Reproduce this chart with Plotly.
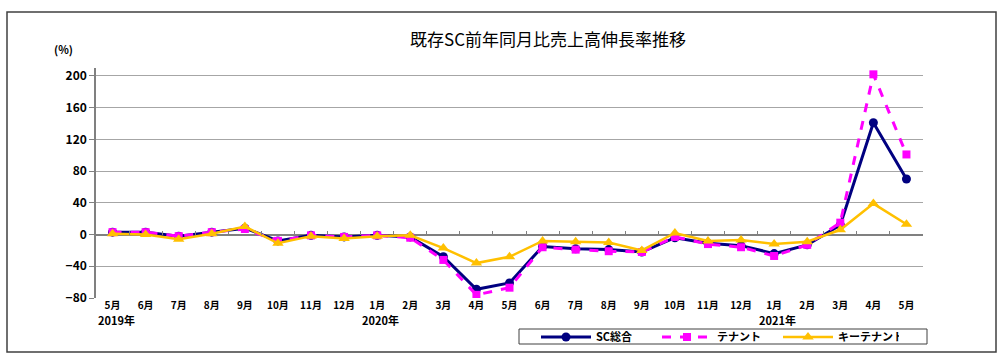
import plotly.graph_objects as go

months = ["2019-05", "2019-06", "2019-07", "2019-08", "2019-09", "2019-10", "2019-11", "2019-12",
          "2020-01", "2020-02", "2020-03", "2020-04", "2020-05", "2020-06", "2020-07", "2020-08",
          "2020-09", "2020-10", "2020-11", "2020-12", "2021-01", "2021-02", "2021-03", "2021-04", "2021-05"]
month_labels = ["5月", "6月", "7月", "8月", "9月", "10月", "11月", "12月",
                "1月", "2月", "3月", "4月", "5月", "6月", "7月", "8月",
                "9月", "10月", "11月", "12月", "1月", "2月", "3月", "4月", "5月"]
year_marks = {"2019-05": "2019年", "2020-01": "2020年", "2021-01": "2021年"}

sc_total = [3, 3, -2, 3, 8, -8, -1, -3, -1, -3, -28, -69, -61, -15, -18, -19, -22, -4, -11, -14, -24, -13, 12, 141, 70]
tenant = [3, 3, -2, 3, 7, -8, -1, -3, -1, -4, -32, -76, -67, -16, -19, -21, -22, -3, -12, -16, -27, -13, 15, 202, 101]
key_tenant = [1, 0, -6, 1, 10, -11, -2, -5, -2, -1, -17, -36, -28, -8, -9, -10, -20, 2, -8, -7, -12, -9, 6, 39, 13]

y_ticks = [200, 160, 120, 80, 40, 0, -40, -80]
y_min, y_max = -80, 210

FONT = "Noto Sans CJK JP"

# plot area in pixels
PL, PR, PT, PB = 96, 923, 68, 298
PW, PH = PR - PL, PB - PT


def px(xp):
    return (xp - PL) / PW


def py(yp):
    return (PB - yp) / PH


fig = go.Figure()
fig.add_trace(go.Scatter(x=months, y=sc_total, name="SC総合", mode="lines+markers",
                         line=dict(color="#000080", width=3),
                         marker=dict(symbol="circle", size=9, color="#000080")))
fig.add_trace(go.Scatter(x=months, y=tenant, name="テナント", mode="lines+markers",
                         line=dict(color="#FF00FF", width=3, dash="dash"),
                         marker=dict(symbol="square", size=8, color="#FF00FF")))
fig.add_trace(go.Scatter(x=months, y=key_tenant, name="キーテナント", mode="lines+markers",
                         line=dict(color="#FFC000", width=2.5),
                         marker=dict(symbol="triangle-up", size=10, color="#FFC000")))
n = len(months)
fig.add_trace(go.Scatter(x=[-0.5, n - 0.5], y=[None, None], xaxis="x2", yaxis="y",
                         showlegend=False, hoverinfo="skip", mode="lines"))

zero_frac = (0 - y_min) / (y_max - y_min)

fig.update_layout(
    width=1000, height=361,
    margin=dict(l=PL, r=1000 - PR, t=PT, b=361 - PB, autoexpand=False),
    paper_bgcolor="white", plot_bgcolor="white",
    font=dict(family=FONT, size=11, color="#000000"),
    xaxis=dict(type="category", categoryorder="array", categoryarray=months,
               tickvals=months, ticktext=month_labels, ticks="", showgrid=False,
               showline=False, zeroline=False, range=[-0.5, n - 0.5],
               tickfont=dict(family=FONT, size=10, color="#000000", weight="bold")),
    xaxis2=dict(overlaying="x", anchor="free", position=zero_frac, side="bottom",
                range=[-0.5, n - 0.5], tickvals=[i + 0.5 for i in range(n - 1)],
                ticks="inside", ticklen=4, tickcolor="#808080", tickwidth=1,
                showticklabels=False, showgrid=False, showline=False, zeroline=False),
    yaxis=dict(range=[y_min, y_max], tickvals=y_ticks, ticktext=[str(v).replace("-", "−") for v in y_ticks],
               showgrid=True, gridcolor="#A6A6A6", gridwidth=1,
               zeroline=True, zerolinecolor="#808080", zerolinewidth=2,
               showline=True, linecolor="#808080", linewidth=1.5,
               ticks="outside", ticklen=5, tickcolor="#808080",
               tickfont=dict(family=FONT, size=12, color="#000000", weight="bold")),
    showlegend=True,
    legend=dict(orientation="h", x=px(536), y=py(337), xanchor="left", yanchor="middle",
                borderwidth=0, bgcolor="rgba(0,0,0,0)",
                font=dict(family=FONT, size=11, weight="bold"), entrywidth=56,
                itemwidth=50, tracegroupgap=0),
)

fig.add_annotation(text="既存SC前年同月比売上高伸長率推移", xref="paper", yref="paper",
                   x=px(548), y=py(38), showarrow=False,
                   font=dict(family=FONT, size=17, color="#000000"),
                   xanchor="center", yanchor="middle")
fig.add_annotation(text="(%)", xref="paper", yref="paper",
                   x=px(63), y=py(49), showarrow=False,
                   font=dict(family=FONT, size=11, color="#000000", weight="bold"),
                   xanchor="center", yanchor="middle")
for m, label in year_marks.items():
    fig.add_annotation(text=label, xref="x", yref="paper", x=m, xshift=-17,
                       y=py(320), showarrow=False, xanchor="left", yanchor="middle",
                       font=dict(family=FONT, size=11, color="#000000", weight="bold"))

# outer frame and legend frame
fig.add_shape(type="rect", xref="paper", yref="paper",
              x0=px(7), x1=px(996), y0=py(352), y1=py(12),
              line=dict(color="#404040", width=1.5), fillcolor="rgba(0,0,0,0)", layer="below")
fig.add_shape(type="rect", xref="paper", yref="paper",
              x0=px(519), x1=px(927), y0=py(344), y1=py(329),
              line=dict(color="#404040", width=1), fillcolor="rgba(0,0,0,0)", layer="below")

fig.write_html("out.html", config={"displayModeBar": False},
               post_script="document.body.style.margin='0';")
